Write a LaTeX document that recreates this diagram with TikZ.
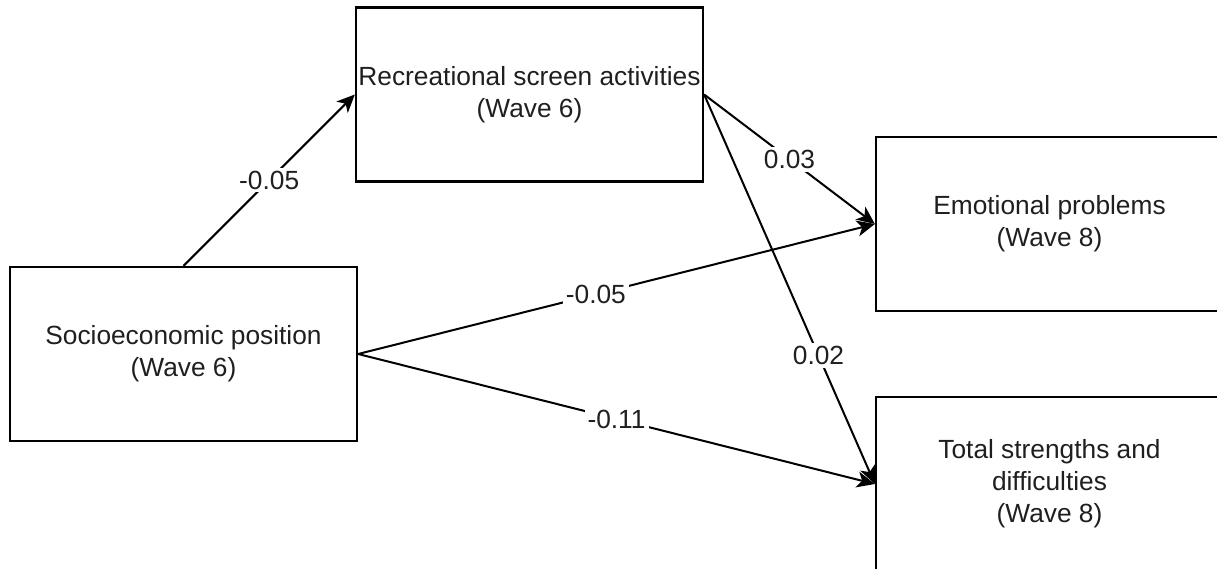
\documentclass[tikz,border=0pt]{standalone}
\usepackage{fontspec}
\setmainfont{Liberation Sans}
\usetikzlibrary{arrows.meta}
\begin{document}
\begin{tikzpicture}[x=1pt,y=-1pt,
  varbox/.style={draw=black, line width=2.3pt, minimum width=347pt, minimum height=174pt,
    align=center, inner sep=0pt, font=\fontsize{26.3}{32}\selectfont, text=black!88},
  path/.style={draw=black, line width=2pt, -{Stealth[length=18pt, width=16pt, inset=5pt]}},
  coef/.style={fill=white, inner sep=3pt, font=\fontsize{26.3}{30}\selectfont, text=black!88}
]
\useasboundingbox (0,0) rectangle (1217,569);
\clip (0,0) rectangle (1217,569);

\node[varbox] (rec) at (529.5,94.5) {Recreational screen activities\\(Wave 6)};
\node[varbox] (ses) at (183.5,354) {Socioeconomic position\\(Wave 6)};
\node[varbox] (emo) at (1049.5,224) {Emotional problems\\(Wave 8)};
\node[varbox] (sdq) at (1049.5,484) {Total strengths and\\difficulties\\(Wave 8)};

\draw[path] (ses.north) -- node[coef, pos=0.5] {-0.05} (rec.west);
\draw[path] (rec.east) -- node[coef, pos=0.5] {0.03} (emo.west);
\draw[path] (rec.east) -- node[coef, pos=0.67] {0.02} (sdq.west);
\draw[path] (ses.east) -- node[coef, pos=0.46] {-0.05} (emo.west);
\draw[path] (ses.east) -- node[coef, pos=0.5] {-0.11} (sdq.west);
\end{tikzpicture}
\end{document}
